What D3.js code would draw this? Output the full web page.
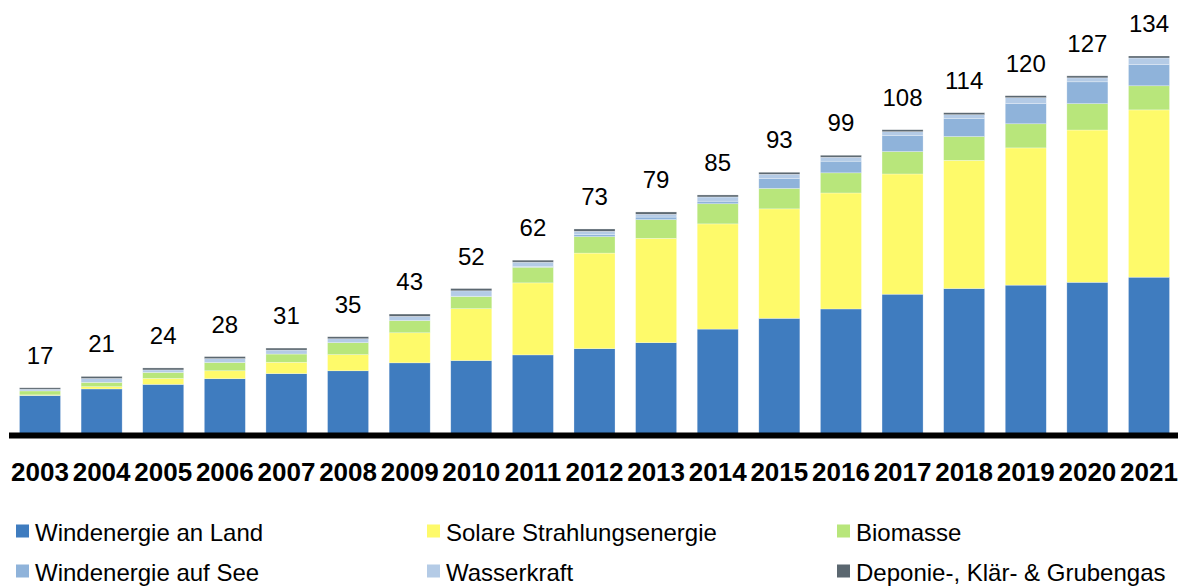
<!DOCTYPE html>
<html>
<head>
<meta charset="utf-8">
<script src="https://cdn.jsdelivr.net/npm/d3@7"></script>
<style>
  html, body { margin: 0; padding: 0; background: #fff; }
  svg { display: block; }
  text { font-family: "Liberation Sans", Arial, sans-serif; fill: #000; }
</style>
</head>
<body>
<svg id="chart" width="1182" height="586"></svg>
<script>
// ---- Data ----
const years = ["2003","2004","2005","2006","2007","2008","2009","2010","2011","2012","2013","2014","2015","2016","2017","2018","2019","2020","2021"];
const windLand = [14.3,16.6,18.2,20.2,22.0,23.0,25.8,26.6,28.6,30.8,32.9,37.7,41.5,44.8,50.0,52.0,53.2,54.2,56.0];
const solar    = [0.2,0.8,2.1,2.8,4.0,5.7,10.6,18.3,25.4,33.7,36.8,37.1,38.6,40.9,42.4,45.2,48.4,53.7,59.0];
const biomasse = [1.4,1.5,2.1,2.9,2.9,4.2,4.3,4.3,5.5,5.8,6.6,7.1,7.2,7.1,7.9,8.4,8.5,9.3,8.5];
const windSee  = [0,0,0,0,0,0,0,0.1,0.3,0.7,0.9,0.9,3.5,4.1,5.6,6.3,7.1,7.7,7.5];
const wasser   = [0.6,1.4,0.9,1.4,1.4,1.4,1.5,1.9,1.5,1.2,1.0,1.5,1.5,1.4,1.4,1.4,2.1,1.4,2.3];
const deponie  = [0.5,0.7,0.7,0.7,0.7,0.7,0.8,0.8,0.7,0.8,0.8,0.7,0.7,0.7,0.7,0.7,0.7,0.7,0.7];
const totals   = [17,21,24,28,31,35,43,52,62,73,79,85,93,99,108,114,120,127,134];
const seriesNames = ["Windenergie an Land","Solare Strahlungsenergie","Biomasse","Windenergie auf See","Wasserkraft","Deponie-, Klär- & Grubengas"];
const seriesColors = ["#3f7cbf","#fefa6a","#b8e67b","#8fb3da","#b4cbe6","#5b6770"];
const seriesData = [windLand, solar, biomasse, windSee, wasser, deponie];

// ---- Build table ----
const keys = seriesNames;
const table = years.map((y, i) => {
  const row = { year: y, total: totals[i] };
  keys.forEach((k, j) => row[k] = seriesData[j][i]);
  return row;
});
const stacked = d3.stack().keys(keys)(table);

const svg = d3.select("#chart");
const W = 1182;

const x = d3.scaleBand().domain(years).range([9.2, 1179.8]).paddingInner(0.334).paddingOuter(0.167);
const y = d3.scaleLinear().domain([0, d3.max(totals)]).range([436, 56]);
const color = d3.scaleOrdinal().domain(keys).range(seriesColors);

// bars
svg.append("g").selectAll("g")
  .data(stacked)
  .join("g")
  .attr("fill", d => color(d.key))
  .selectAll("rect")
  .data(d => d)
  .join("rect")
  .attr("x", d => x(d.data.year))
  .attr("width", x.bandwidth())
  .attr("y", d => y(d[1]))
  .attr("height", d => Math.max(0, y(d[0]) - y(d[1])))
  .attr("stroke", "rgba(255,255,255,0.45)")
  .attr("stroke-width", 0.6);

// total labels
svg.append("g").selectAll("text")
  .data(table)
  .join("text")
  .attr("x", d => x(d.year) + x.bandwidth() / 2)
  .attr("y", d => y(d.total) - 24)
  .attr("text-anchor", "middle")
  .attr("font-size", "24px")
  .text(d => d.total);

// axis
const xAxis = d3.axisBottom(x).tickSize(0).tickPadding(0);
const ax = svg.append("g").attr("transform", "translate(0,435.5)").call(xAxis);
ax.select(".domain").attr("stroke", "#000").attr("stroke-width", 6)
  .attr("d", "M9,0H1178");
ax.selectAll(".tick text")
  .attr("y", 45.5)
  .attr("dy", 0)
  .attr("font-size", "26px")
  .attr("font-weight", "bold")
  .attr("font-family", "'Liberation Sans', Arial, sans-serif")
  .attr("fill", "#000");

// legend
const legCols = [16, 427, 837];
const legRows = [524.5, 564.5];
const legend = svg.append("g").selectAll("g")
  .data(keys)
  .join("g")
  .attr("transform", (d, i) => `translate(${legCols[i % 3]},${legRows[Math.floor(i / 3)]})`);
legend.append("rect").attr("width", 13).attr("height", 13).attr("fill", d => color(d));
legend.append("text").attr("x", 19).attr("y", 16).attr("font-size", "24px").text(d => d);
</script>
</body>
</html>
